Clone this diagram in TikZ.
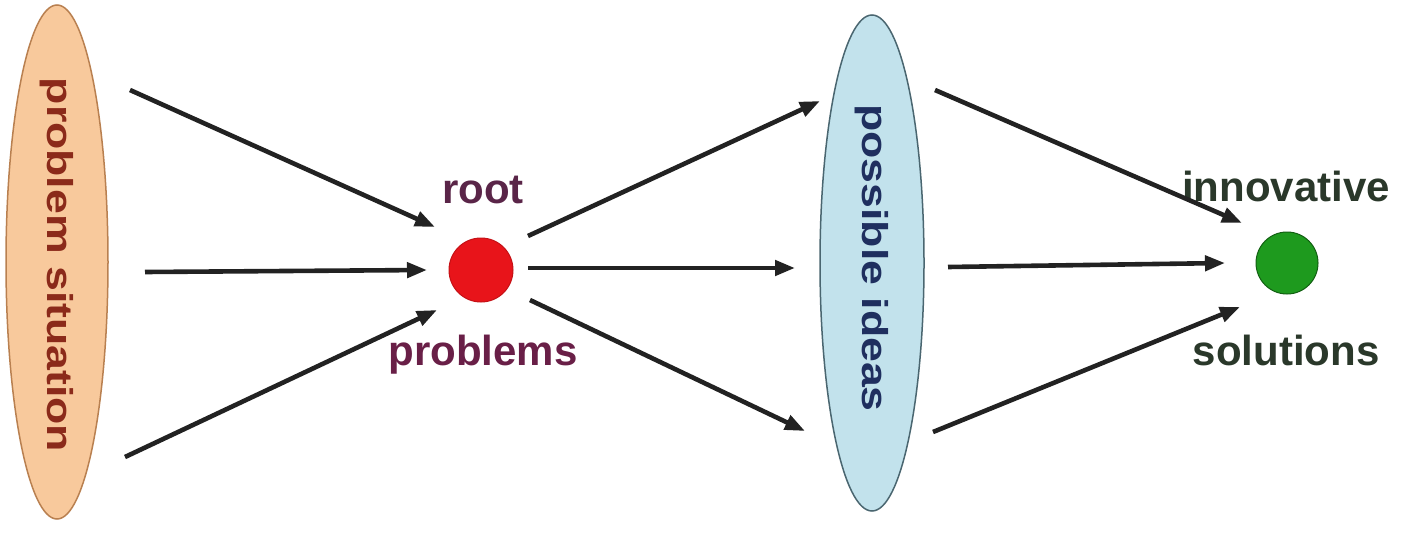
\documentclass[tikz,border=0pt]{standalone}
\usepackage{fontspec}
\setmainfont{Liberation Sans}
\usetikzlibrary{arrows.meta,shapes.geometric}
\definecolor{peach}{HTML}{F8C99C}
\definecolor{peachline}{HTML}{B98050}
\definecolor{brownred}{HTML}{8B2A1A}
\definecolor{paleblue}{HTML}{C2E2EC}
\definecolor{blueline}{HTML}{4A6670}
\definecolor{navy}{HTML}{1F2F5F}
\definecolor{rootred}{HTML}{E8141A}
\definecolor{solgreen}{HTML}{1E9A1E}
\definecolor{solgreenline}{HTML}{126012}
\definecolor{plum}{HTML}{5A2548}
\definecolor{darkgreengray}{HTML}{2A382A}
\definecolor{arrowgray}{HTML}{222222}
\tikzset{
  stage/.style={ellipse, draw, line width=1.5pt, inner sep=0pt},
  hub/.style={circle, draw, line width=1pt, inner sep=0pt},
  label/.style={font=\fontsize{42}{46}\selectfont\bfseries, inner sep=0pt},
  vlabel/.style={font=\fontsize{36}{40}\selectfont\bfseries, inner sep=0pt, rotate=-90},
  flow/.style={draw=arrowgray, line width=4.6pt, -{Triangle[length=20pt,width=15pt]}}
}
\begin{document}
\begin{tikzpicture}[x=1pt,y=-1pt]
\path[use as bounding box, fill=white] (0,0) rectangle (1402,535);
% stages
\node[stage, fill=peach, draw=peachline, minimum width=102pt, minimum height=514pt] (sit) at (57,262) {};
\node[vlabel, text=brownred] (sittext) at (57,265) {\scalebox{1.24}[1]{problem situation}};
\node[stage, fill=paleblue, draw=blueline, minimum width=104pt, minimum height=496pt] (ideas) at (872,263) {};
\node[vlabel, text=navy] (ideastext) at (872,258) {\scalebox{1.24}[1]{possible ideas}};
% hubs
\node[hub, fill=rootred, draw=rootred!85!black, minimum size=64pt] (root) at (481,270) {};
\node[hub, fill=solgreen, draw=solgreenline, minimum size=62pt] (sol) at (1287,263) {};
% labels
\node[label, text=plum] (rootlbl) at (483,190) {root};
\node[label, text=plum!85!purple] (problbl) at (483,355) {problems};
\node[label, text=darkgreengray] (innolbl) at (1286,186) {innovative};
\node[label, text=darkgreengray] (sollbl) at (1286,350) {solutions};
% arrow end points
\coordinate (a1s) at (130,90);   \coordinate (a1e) at (435,227);
\coordinate (a2s) at (145,272);  \coordinate (a2e) at (427,270);
\coordinate (a3s) at (125,457);  \coordinate (a3e) at (437,310);
\coordinate (b1s) at (528,236);  \coordinate (b1e) at (820,101);
\coordinate (b2s) at (528,268);  \coordinate (b2e) at (795,268);
\coordinate (b3s) at (530,300);  \coordinate (b3e) at (805,431);
\coordinate (c1s) at (935,90);   \coordinate (c1e) at (1242,223);
\coordinate (c2s) at (948,267);  \coordinate (c2e) at (1225,263);
\coordinate (c3s) at (933,432);  \coordinate (c3e) at (1240,307);
% arrows
\draw[flow] (a1s) -- (a1e);
\draw[flow] (a2s) -- (a2e);
\draw[flow] (a3s) -- (a3e);
\draw[flow] (b1s) -- (b1e);
\draw[flow] (b2s) -- (b2e);
\draw[flow] (b3s) -- (b3e);
\draw[flow] (c1s) -- (c1e);
\draw[flow] (c2s) -- (c2e);
\draw[flow] (c3s) -- (c3e);
\end{tikzpicture}
\end{document}
